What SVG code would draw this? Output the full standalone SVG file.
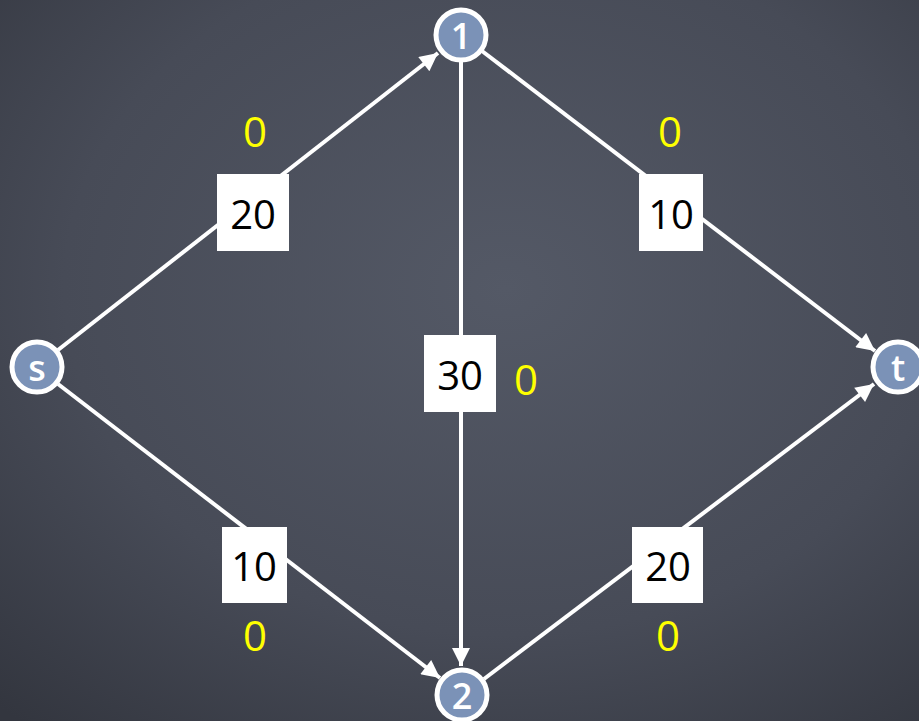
<svg xmlns="http://www.w3.org/2000/svg" width="919" height="721" viewBox="0 0 919 721">
<defs>
<radialGradient id="bg" cx="0.55" cy="0.4" r="0.8">
<stop offset="0" stop-color="#545966"/>
<stop offset="0.6" stop-color="#474b57"/>
<stop offset="1" stop-color="#33363f"/>
</radialGradient>
<marker id="arr" viewBox="0 0 10 10" refX="10" refY="5" markerWidth="5.5" markerHeight="4.5" markerUnits="strokeWidth" orient="auto">
<path d="M0,0 L10,5 L0,10 z" fill="#ffffff"/>
</marker>
</defs>
<style>
.edge{stroke:#ffffff;stroke-width:4;fill:none;marker-end:url(#arr)}
.node circle{fill:#7b92b7;stroke:#ffffff;stroke-width:5}
.node text{fill:#ffffff;font-family:"Open Sans","DejaVu Sans",sans-serif;font-size:36px;font-weight:600;text-anchor:middle;dominant-baseline:central}
.cap rect{fill:#ffffff}
.cap text{fill:#000000;font-family:"Open Sans","DejaVu Sans",sans-serif;font-size:40px;font-weight:500;text-anchor:middle;dominant-baseline:central}
.flow{fill:#ffff00;font-family:"Open Sans","DejaVu Sans",sans-serif;font-size:42px;text-anchor:middle;dominant-baseline:central}
</style>
<rect x="0" y="0" width="919" height="721" fill="url(#bg)"/>
<g id="connectors">
<line class="edge" x1="58" y1="350" x2="438" y2="53"/>
<line class="edge" x1="482" y1="51" x2="875" y2="351"/>
<line class="edge" x1="461" y1="62" x2="461" y2="666"/>
<line class="edge" x1="58" y1="384" x2="440" y2="678"/>
<line class="edge" x1="484" y1="679" x2="874" y2="384"/>
</g>
<g id="cap-s1" class="cap"><rect x="217" y="174" width="72" height="77"/><text x="253" y="213">20</text></g>
<g id="cap-1t" class="cap"><rect x="639" y="174" width="64" height="77"/><text x="671" y="213">10</text></g>
<g id="cap-12" class="cap"><rect x="424" y="335" width="72" height="77"/><text x="460" y="374">30</text></g>
<g id="cap-s2" class="cap"><rect x="222" y="527" width="65" height="76"/><text x="254" y="565">10</text></g>
<g id="cap-2t" class="cap"><rect x="632" y="527" width="71" height="76"/><text x="668" y="565">20</text></g>
<text class="flow" x="255" y="130">0</text>
<text class="flow" x="670" y="130">0</text>
<text class="flow" x="526" y="378">0</text>
<text class="flow" x="255" y="634">0</text>
<text class="flow" x="668" y="634">0</text>
<g id="node-1" class="node"><circle cx="461" cy="35" r="25"/><text x="461" y="35">1</text></g>
<g id="node-s" class="node"><circle cx="37" cy="367" r="25"/><text x="37" y="367">s</text></g>
<g id="node-t" class="node"><circle cx="898" cy="367" r="25"/><text x="898" y="367">t</text></g>
<g id="node-2" class="node"><circle cx="462" cy="695" r="25"/><text x="462" y="695">2</text></g>
</svg>
